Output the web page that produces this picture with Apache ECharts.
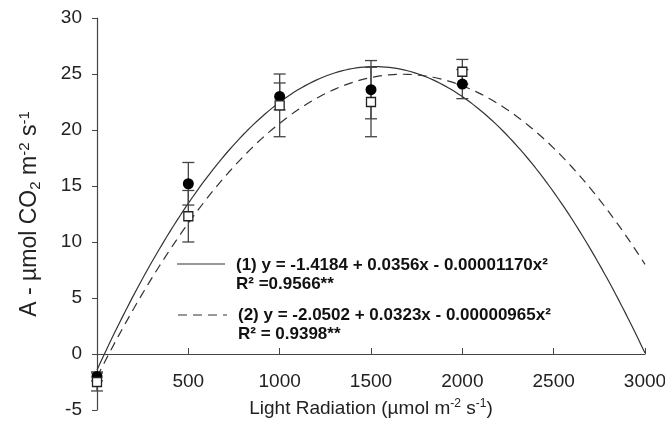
<!DOCTYPE html>
<html>
<head>
<meta charset="utf-8">
<script src="https://cdn.jsdelivr.net/npm/echarts@6/dist/echarts.min.js"></script>
<style>
  html, body { margin: 0; padding: 0; background: #fff; }
  #chart { width: 665px; height: 432px; }
</style>
</head>
<body>
<div id="chart"></div>
<script>
  // measured points (light radiation)
  var lightLevels = [0, 500, 1000, 1500, 2000];
  // (1) filled circles
  var meanA1 = [-2.0, 15.2, 23.0, 23.6, 24.1];
  var errA1 = [0.4, 1.9, 1.2, 2.6, 1.3];
  // (2) open squares
  var meanA2 = [-2.5, 12.3, 22.2, 22.5, 25.2];
  var errA2 = [0.8, 2.3, 2.8, 3.1, 1.1];
  // fitted quadratics y = a + b x + c x^2 (from the equations on the chart)
  var coef1 = [-1.4184, 0.0356, -0.00001170];
  var coef2 = [-2.0502, 0.0323, -0.00000965];
  var xTicks = [0, 500, 1000, 1500, 2000, 2500, 3000];
  var yTicks = [-5, 0, 5, 10, 15, 20, 25, 30];

  function fitCurve(c) {
    var pts = [];
    for (var x = xTicks[0]; x <= xTicks[xTicks.length - 1]; x += 20) {
      pts.push([x, c[0] + c[1] * x + c[2] * x * x]);
    }
    return pts;
  }

  function pairs(xs, ys) {
    return xs.map(function (x, i) { return [x, ys[i]]; });
  }

  function errRows(xs, ys, es) {
    return xs.map(function (x, i) { return [x, ys[i] - es[i], ys[i] + es[i]]; });
  }

  function renderErr(params, api) {
    var lo = api.coord([api.value(0), api.value(1)]);
    var hi = api.coord([api.value(0), api.value(2)]);
    var w = 6;
    var st = { stroke: '#444', lineWidth: 1.3 };
    return {
      type: 'group',
      children: [
        { type: 'line', shape: { x1: lo[0], y1: lo[1], x2: hi[0], y2: hi[1] }, style: st },
        { type: 'line', shape: { x1: lo[0] - w, y1: lo[1], x2: lo[0] + w, y2: lo[1] }, style: st },
        { type: 'line', shape: { x1: hi[0] - w, y1: hi[1], x2: hi[0] + w, y2: hi[1] }, style: st }
      ]
    };
  }

  var font = 'Liberation Sans, Arial, sans-serif';
  var chart = echarts.init(document.getElementById('chart'));
  chart.setOption({
    animation: false,
    textStyle: { fontFamily: font },
    grid: { left: 97, right: 20, top: 18, bottom: 22, outerBoundsMode: 'none', containLabel: false },
    xAxis: {
      type: 'value',
      min: xTicks[0],
      max: xTicks[xTicks.length - 1],
      interval: 500,
      name: 'Light Radiation (µmol m{sup|-2} s{sup|-1})',
      nameLocation: 'middle',
      nameGap: -12,
      nameTextStyle: {
        color: '#222', fontSize: 19, fontFamily: font,
        rich: { sup: { fontSize: 12, color: '#222', padding: [0, 0, 9, 0] } }
      },
      axisLine: { onZero: true, lineStyle: { color: '#444', width: 1.2 } },
      axisTick: { inside: true, length: 6, lineStyle: { color: '#444' } },
      axisLabel: {
        margin: -38, color: '#222', fontSize: 19, fontFamily: font,
        formatter: function (v) { return v === 0 ? '' : v; }
      },
      splitLine: { show: false }
    },
    yAxis: {
      type: 'value',
      min: yTicks[0],
      max: yTicks[yTicks.length - 1],
      interval: 5,
      name: 'A - µmol CO{sub|2} m{sup|-2} s{sup|-1}',
      nameLocation: 'middle',
      nameGap: 54,
      nameTextStyle: {
        color: '#222', fontSize: 23, fontFamily: font,
        rich: {
          sup: { fontSize: 15, color: '#222', padding: [0, 0, 11, 0] },
          sub: { fontSize: 15, color: '#222', padding: [11, 0, 0, 0] }
        }
      },
      axisLine: { show: true, lineStyle: { color: '#444', width: 1.2 } },
      axisTick: { show: true, length: 5, lineStyle: { color: '#444' } },
      axisLabel: { margin: 15, color: '#222', fontSize: 19, fontFamily: font },
      splitLine: { show: false }
    },
    series: [
      {
        type: 'line', name: 'fit1', data: fitCurve(coef1), showSymbol: false, z: 2,
        lineStyle: { color: '#333', width: 1.2 }
      },
      {
        type: 'line', name: 'fit2', data: fitCurve(coef2), showSymbol: false, z: 2,
        lineStyle: { color: '#333', width: 1.2, type: [9, 6] }
      },
      { type: 'custom', renderItem: renderErr, data: errRows(lightLevels, meanA1, errA1), z: 3, encode: { x: 0, y: [1, 2] } },
      { type: 'custom', renderItem: renderErr, data: errRows(lightLevels, meanA2, errA2), z: 3, encode: { x: 0, y: [1, 2] } },
      {
        type: 'scatter', data: pairs(lightLevels, meanA1), symbol: 'circle', symbolSize: 11, z: 5,
        itemStyle: { color: '#000', opacity: 1 }
      },
      {
        type: 'scatter', data: pairs(lightLevels, meanA2), symbol: 'rect', symbolSize: 9, z: 6,
        itemStyle: { color: '#fff', borderColor: '#222', borderWidth: 1.3, opacity: 1 }
      }
    ],
    graphic: [
      { type: 'line', shape: { x1: 177, y1: 264, x2: 225, y2: 264 }, style: { stroke: '#333', lineWidth: 1.2 } },
      { type: 'line', shape: { x1: 178, y1: 315, x2: 227, y2: 315 }, style: { stroke: '#333', lineWidth: 1.2, lineDash: [9, 6] } },
      { type: 'text', left: 236, top: 257, style: { text: '(1) y = -1.4184 + 0.0356x - 0.00001170x²', font: 'bold 17px ' + font, fill: '#111' } },
      { type: 'text', left: 236, top: 276, style: { text: 'R² =0.9566**', font: 'bold 17px ' + font, fill: '#111' } },
      { type: 'text', left: 238, top: 307, style: { text: '(2) y = -2.0502 + 0.0323x - 0.00000965x²', font: 'bold 17px ' + font, fill: '#111' } },
      { type: 'text', left: 238, top: 326, style: { text: 'R² = 0.9398**', font: 'bold 17px ' + font, fill: '#111' } }
    ]
  });
</script>
</body>
</html>
